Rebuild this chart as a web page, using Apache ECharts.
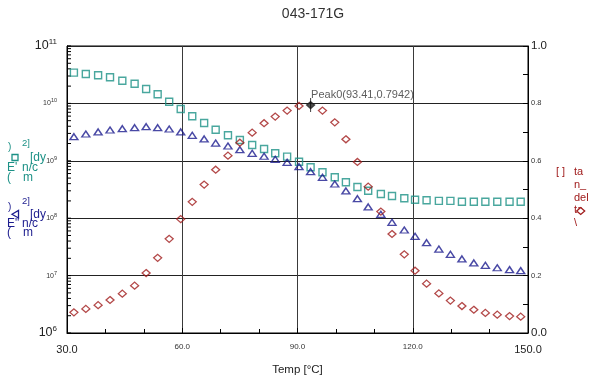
<!DOCTYPE html>
<html>
<head>
<meta charset="utf-8">
<script src="https://cdn.jsdelivr.net/npm/echarts@6/dist/echarts.min.js"></script>
<style>
  html, body { margin: 0; padding: 0; background: #fff; }
  #chart { width: 589px; height: 381px; }
</style>
</head>
<body>
<div id="chart"></div>
<script>
// Temperature sweep (°C) shared by all three measured quantities
const temps = [31.8, 34.9, 38.1, 41.2, 44.4, 47.6, 50.6, 53.6, 56.6, 59.6,
  62.6, 65.7, 68.7, 71.9, 75.0, 78.2, 81.3, 84.2, 87.3, 90.4,
  93.41, 96.5, 99.7, 102.6, 105.6, 108.4, 111.7, 114.6, 117.8, 120.6,
  123.6, 126.8, 129.8, 132.8, 135.9, 138.9, 142.0, 145.2, 148.1];

// Storage modulus E' (dyn/cm²)
const storageModulus = [3.43e10, 3.25e10, 3.09e10, 2.85e10, 2.48e10, 2.20e10, 1.78e10, 1.44e10, 1.07e10, 7.98e9,
  5.96e9, 4.56e9, 3.48e9, 2.78e9, 2.30e9, 1.88e9, 1.61e9, 1.35e9, 1.18e9, 9.64e8,
  7.70e8, 6.31e8, 5.16e8, 4.22e8, 3.50e8, 3.01e8, 2.64e8, 2.44e8, 2.22e8, 2.10e8,
  2.05e8, 2.00e8, 2.00e8, 1.94e8, 1.94e8, 1.94e8, 1.94e8, 1.94e8, 1.94e8];

// Loss modulus E'' (dyn/cm²)
const lossModulus = [2.63e9, 2.93e9, 3.18e9, 3.44e9, 3.62e9, 3.77e9, 3.93e9, 3.77e9, 3.58e9, 3.18e9,
  2.78e9, 2.40e9, 2.04e9, 1.81e9, 1.56e9, 1.35e9, 1.20e9, 1.06e9, 9.42e8, 7.89e8,
  6.46e8, 5.16e8, 3.94e8, 2.98e8, 2.19e8, 1.57e8, 1.17e8, 8.49e7, 6.23e7, 4.84e7,
  3.74e7, 2.90e7, 2.35e7, 1.95e7, 1.66e7, 1.51e7, 1.37e7, 1.27e7, 1.22e7];

// Loss tangent tan δ
const tanDelta = [0.072, 0.084, 0.097, 0.115, 0.137, 0.165, 0.209, 0.262, 0.328, 0.397,
  0.457, 0.517, 0.569, 0.618, 0.663, 0.698, 0.731, 0.754, 0.775, 0.791,
  0.7942, 0.775, 0.734, 0.675, 0.596, 0.510, 0.423, 0.345, 0.274, 0.217,
  0.172, 0.138, 0.113, 0.094, 0.081, 0.070, 0.064, 0.059, 0.057];

// Tick labels
const xTickValues = [30, 60, 90, 120, 150];
const leftDecades = [6, 7, 8, 9, 10, 11];
const rightTickValues = [0, 0.2, 0.4, 0.6, 0.8, 1.0];

const FONT = '"Liberation Sans", Arial, Helvetica, sans-serif';
const TEAL = '#1c9186';
const NAVY = '#1c1c8e';
const RED = '#a01c1c';

const peakIndex = tanDelta.indexOf(Math.max.apply(null, tanDelta));
const peakT = temps[peakIndex];
const peakV = tanDelta[peakIndex];

// 1..9 x 10^n positions for the ticks along the log modulus axis
const logTickValues = [];
leftDecades.forEach(function (e, i) {
  const top = i === leftDecades.length - 1 ? 1 : 9;
  for (let k = 1; k <= top; k++) logTickValues.push(k * Math.pow(10, e));
});

const chart = echarts.init(document.getElementById('chart'), null, { renderer: 'canvas' });

function legendText(text, x, y, color, size) {
  return {
    type: 'text', silent: true,
    style: { text: text, x: x, y: y, fill: color, font: (size || 12) + 'px ' + FONT, verticalAlign: 'middle' }
  };
}

const graphics = [
  // E' block
  legendText(')', 8, 147, TEAL, 10),
  legendText('2]', 22, 143, TEAL, 9.5),
  { type: 'rect', silent: true, shape: { x: 12, y: 154.5, width: 6, height: 6 }, style: { fill: 'none', stroke: TEAL, lineWidth: 1.3 } },
  legendText('[dy', 30, 157.7, TEAL),
  legendText("E'", 7, 167.3, TEAL),
  legendText('n/c', 22, 167.3, TEAL),
  legendText('(', 7, 177.7, TEAL),
  legendText('m', 23, 177.7, TEAL),
  // E'' block
  legendText(')', 8, 207.7, NAVY, 10),
  legendText('2]', 22, 201.7, NAVY, 9.5),
  { type: 'polygon', silent: true, shape: { points: [[12, 214.3], [18.5, 210.5], [18.5, 218]] }, style: { fill: 'none', stroke: NAVY, lineWidth: 1.3 } },
  legendText('[dy', 30, 214.3, NAVY),
  legendText('E"', 7, 223.3, NAVY),
  legendText('n/c', 22, 223.3, NAVY),
  legendText('(', 7, 232.3, NAVY),
  legendText('m', 23, 232.3, NAVY),
  // tan delta block
  legendText('[ ]', 556, 171.7, RED, 11),
  legendText('ta', 574, 171.7, RED, 11),
  legendText('n_', 574, 185, RED, 11),
  legendText('del', 574, 197.7, RED, 11),
  legendText('ta', 574, 210, RED, 11),
  legendText('\\', 574, 222.7, RED, 11),
  { type: 'polygon', silent: true, shape: { points: [[576.7, 211], [580.7, 207.5], [584.7, 211], [580.7, 214.5]] }, style: { fill: '#fff', stroke: RED, lineWidth: 1.3 } }
];

const option = {
  animation: false,
  backgroundColor: '#fff',
  textStyle: { fontFamily: FONT },
  title: {
    text: '043-171G', left: 308, top: 2, textAlign: 'center',
    textStyle: { fontSize: 14, fontWeight: 'normal', color: '#333', fontFamily: FONT }
  },
  grid: { left: 67, right: 61, top: 46, bottom: 48, show: true, borderColor: '#000', borderWidth: 1 },
  xAxis: {
    type: 'value', min: 30, max: 150, interval: 30,
    name: 'Temp [°C]', nameLocation: 'middle', nameGap: 31,
    nameTextStyle: { fontSize: 11.5, color: '#222', fontFamily: FONT },
    axisLine: { show: true, onZero: false, lineStyle: { color: '#000', width: 1 } },
    axisTick: { show: true, inside: true, length: 5, lineStyle: { color: '#000' } },
    minorTick: { show: true, splitNumber: 3, length: 4, lineStyle: { color: '#000' } },
    splitLine: { show: true, lineStyle: { color: '#3a3a3a', width: 1 } },
    axisLabel: {
      margin: 10,
      customValues: xTickValues,
      formatter: function (v) {
        const s = v.toFixed(1);
        return (v === 30 || v === 150) ? '{big|' + s + '}' : '{small|' + s + '}';
      },
      rich: {
        big: { fontSize: 11, color: '#222', lineHeight: 14, fontFamily: FONT },
        small: { fontSize: 8, color: '#333', lineHeight: 7, fontFamily: FONT }
      }
    }
  },
  yAxis: [
    {
      type: 'log', logBase: 10, min: 1e6, max: 1e11, position: 'left',
      axisLine: { show: true, lineStyle: { color: '#000', width: 1 } },
      axisTick: { show: false },
      splitLine: { show: false },
      axisLabel: {
        margin: 10,
        formatter: function (v) {
          const e = Math.round(Math.log10(v));
          return (e === 6 || e === 11) ? '{b|10}{bs|' + e + '}' : '{s|10}{ss|' + e + '}';
        },
        rich: {
          b: { fontSize: 12.5, color: '#222', fontFamily: FONT },
          bs: { fontSize: 8, color: '#222', padding: [0, 0, 8, 0], fontFamily: FONT },
          s: { fontSize: 7, color: '#333', fontFamily: FONT },
          ss: { fontSize: 5.5, color: '#333', padding: [0, 0, 5, 0], fontFamily: FONT }
        }
      }
    },
    {
      type: 'value', min: 0, max: 1, interval: 0.2, position: 'right',
      axisLine: { show: true, lineStyle: { color: '#000', width: 1 } },
      axisTick: { show: true, inside: true, length: 5, lineStyle: { color: '#000' } },
      minorTick: { show: true, splitNumber: 2, length: 5, lineStyle: { color: '#000' } },
      splitLine: { show: true, lineStyle: { color: '#222', width: 1 } },
      axisLabel: {
        margin: 3,
        customValues: rightTickValues,
        formatter: function (v) {
          const s = v.toFixed(1);
          return (v === 0 || v === 1) ? '{big|' + s + '}' : '{small|' + s + '}';
        },
        rich: {
          big: { fontSize: 11.5, color: '#222', fontFamily: FONT },
          small: { fontSize: 7.5, color: '#333', fontFamily: FONT }
        }
      }
    }
  ],
  graphic: graphics,
  series: [
    {
      // inward ticks along the log modulus axis
      name: 'logTicks', type: 'custom', yAxisIndex: 0, silent: true, clip: false,
      renderItem: function (params, api) {
        const p = api.coord([api.value(0), api.value(1)]);
        return {
          type: 'line',
          shape: { x1: p[0], y1: p[1], x2: p[0] + 4, y2: p[1] },
          style: { stroke: '#000', lineWidth: 1 }
        };
      },
      data: logTickValues.map(function (v) { return [30, v]; }),
      z: 2
    },
    {
      name: "E'", type: 'scatter', yAxisIndex: 0,
      symbol: 'rect', symbolSize: 7,
      itemStyle: { color: 'rgba(255,255,255,0)', borderColor: TEAL, borderWidth: 1.4 },
      data: temps.map(function (t, i) { return [t, storageModulus[i]]; }),
      z: 3
    },
    {
      name: "E''", type: 'scatter', yAxisIndex: 0,
      symbol: 'triangle', symbolSize: [8, 6],
      itemStyle: { color: 'rgba(255,255,255,0)', borderColor: NAVY, borderWidth: 1.4 },
      data: temps.map(function (t, i) { return [t, lossModulus[i]]; }),
      z: 4
    },
    {
      name: 'tan_delta', type: 'scatter', yAxisIndex: 1,
      symbol: 'diamond', symbolSize: [8, 7],
      itemStyle: { color: 'rgba(255,255,255,0)', borderColor: RED, borderWidth: 1.3 },
      data: temps.map(function (t, i) {
        if (i === peakIndex) {
          return { value: [t, tanDelta[i]], itemStyle: { color: '#222', borderColor: '#222' } };
        }
        return [t, tanDelta[i]];
      }),
      z: 5
    },
    {
      name: 'peak', type: 'scatter', yAxisIndex: 1,
      symbol: 'rect', symbolSize: [1, 14],
      itemStyle: { color: '#111' },
      label: {
        show: true, position: [1, -9], align: 'left', verticalAlign: 'top',
        formatter: 'Peak0(' + peakT.toFixed(2) + ',' + peakV.toFixed(4) + ')',
        fontSize: 11, color: '#333', fontFamily: FONT
      },
      data: [[peakT, peakV]],
      z: 6
    }
  ]
};

chart.setOption(option);
</script>
</body>
</html>
